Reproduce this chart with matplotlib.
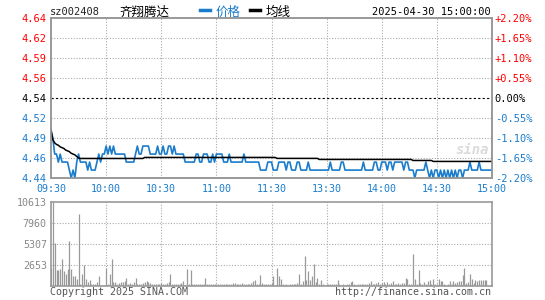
import numpy as np
import matplotlib
matplotlib.use('Agg')
import matplotlib.pyplot as plt
from matplotlib.lines import Line2D

plt.rcParams['font.family'] = ['DejaVu Sans Mono', 'Noto Sans CJK SC']

# ---- data ----
code = 'sz002408'
name = '齐翔腾达'
stamp = '2025-04-30 15:00:00'
prev_close = 4.54

time_ticks = [0, 30, 60, 90, 120, 150, 180, 210, 240]
time_labels = ['09:30', '10:00', '10:30', '11:00', '11:30', '13:30', '14:00', '14:30', '15:00']

price_labels = ['4.44', '4.46', '4.49', '4.52', '4.54', '4.56', '4.59', '4.62', '4.64']
pct_labels = ['-2.20%', '-1.65%', '-1.10%', '-0.55%', '0.00%', '+0.55%', '+1.10%', '+1.65%', '+2.20%']

vol_ticks = [2653, 5307, 7960, 10613]

# price per minute, 09:30 .. 15:00 (241 points)
price = [
    4.50, 4.49, 4.47, 4.47, 4.46, 4.47, 4.46, 4.46, 4.46, 4.46,
    4.45, 4.44, 4.45, 4.44, 4.46, 4.47, 4.46, 4.46, 4.46, 4.46,
    4.45, 4.46, 4.45, 4.45, 4.45, 4.46, 4.47, 4.46, 4.47, 4.47,
    4.48, 4.47, 4.48, 4.47, 4.48, 4.47, 4.47, 4.47, 4.47, 4.47,
    4.47, 4.46, 4.46, 4.46, 4.46, 4.46, 4.47, 4.48, 4.47, 4.47,
    4.48, 4.48, 4.48, 4.48, 4.47, 4.47, 4.47, 4.47, 4.48, 4.47,
    4.47, 4.48, 4.47, 4.47, 4.48, 4.48, 4.47, 4.48, 4.47, 4.47,
    4.47, 4.47, 4.47, 4.46, 4.46, 4.46, 4.46, 4.46, 4.46, 4.47,
    4.47, 4.46, 4.46, 4.47, 4.47, 4.47, 4.46, 4.46, 4.47, 4.46,
    4.47, 4.47, 4.47, 4.47, 4.46, 4.46, 4.46, 4.47, 4.46, 4.46,
    4.46, 4.46, 4.46, 4.46, 4.46, 4.47, 4.46, 4.46, 4.46, 4.46,
    4.46, 4.46, 4.46, 4.46, 4.45, 4.45, 4.45, 4.45, 4.46, 4.46,
    4.46, 4.45, 4.45, 4.45, 4.46, 4.46, 4.46, 4.46, 4.45, 4.46,
    4.46, 4.45, 4.45, 4.45, 4.46, 4.46, 4.45, 4.45, 4.45, 4.45,
    4.46, 4.45, 4.45, 4.45, 4.45, 4.45, 4.45, 4.45, 4.45, 4.45,
    4.45, 4.45, 4.46, 4.45, 4.45, 4.45, 4.45, 4.45, 4.46, 4.46,
    4.45, 4.45, 4.45, 4.45, 4.45, 4.45, 4.45, 4.45, 4.45, 4.45,
    4.46, 4.45, 4.45, 4.45, 4.45, 4.45, 4.46, 4.46, 4.45, 4.45,
    4.46, 4.46, 4.46, 4.45, 4.46, 4.46, 4.45, 4.46, 4.46, 4.46,
    4.46, 4.46, 4.45, 4.46, 4.46, 4.45, 4.45, 4.45, 4.44, 4.45,
    4.45, 4.45, 4.45, 4.45, 4.46, 4.45, 4.44, 4.45, 4.44, 4.45,
    4.45, 4.44, 4.45, 4.44, 4.45, 4.44, 4.45, 4.44, 4.45, 4.44,
    4.45, 4.44, 4.45, 4.45, 4.44, 4.45, 4.45, 4.45, 4.46, 4.45,
    4.45, 4.45, 4.45, 4.46, 4.45, 4.45, 4.45, 4.45, 4.45, 4.45,
    4.45,
]

# average price: first minutes one by one, then flat runs
avg_start = [4.500, 4.488, 4.484, 4.482, 4.481, 4.479, 4.478, 4.477,
             4.475, 4.474, 4.473, 4.471, 4.470, 4.469, 4.467, 4.465]
avg_levels = [4.4645, 4.4658, 4.4646, 4.4633, 4.4620, 4.4608]
avg_runs = [35, 72, 23, 51, 11, 33]

volume = [
    2270, 10613, 5430, 1980, 1980, 2190, 3370, 1850, 1560, 2100,
    5640, 2100, 1220, 1220, 840, 9050, 295, 1470, 2610, 930,
    505, 715, 295, 210, 210, 505, 1220, 170, 170, 170,
    2315, 295, 1560, 3450, 505, 505, 295, 380, 505, 505,
    630, 1050, 210, 380, 295, 505, 1050, 295, 295, 295,
    380, 505, 630, 505, 420, 295, 210, 210, 210, 295,
    420, 295, 295, 380, 505, 1470, 210, 210, 210, 295,
    295, 380, 590, 170, 2100, 295, 1980, 210, 210, 295,
    210, 210, 210, 210, 1050, 295, 210, 295, 210, 210,
    210, 295, 295, 210, 210, 210, 210, 295, 210, 380,
    380, 210, 210, 295, 380, 210, 295, 295, 295, 420,
    590, 800, 295, 295, 1350, 380, 295, 295, 295, 295,
    380, 1220, 130, 2315, 1220, 930, 295, 170, 295, 170,
    210, 295, 295, 295, 420, 1560, 295, 630, 3750, 715,
    1850, 800, 1220, 2820, 505, 1050, 210, 800, 210, 130,
    210, 210, 295, 210, 295, 210, 715, 295, 170, 210,
    170, 210, 295, 505, 630, 210, 170, 295, 295, 210,
    210, 210, 295, 380, 630, 295, 210, 380, 505, 210,
    420, 505, 210, 505, 295, 380, 630, 210, 295, 380,
    210, 380, 380, 1050, 930, 210, 295, 4000, 930, 210,
    1980, 380, 210, 505, 210, 630, 800, 295, 930, 210,
    210, 930, 630, 630, 210, 170, 210, 590, 210, 590,
    380, 505, 630, 630, 1350, 2315, 420, 505, 1470, 930,
    420, 800, 630, 715, 715, 715, 715, 715, 0, 0,
    0,
]

avg = avg_start + [lv for lv, n in zip(avg_levels, avg_runs) for _ in range(n)]
minutes = np.arange(len(price))

W, H = 545, 300
BLUE = '#1a7ccc'
RED = '#ff0000'
GRID = '#aaaaaa'
FRAME = '#999999'


def fx(x):
    return x / W


def fy(y):
    return 1 - y / H


fig = plt.figure(figsize=(5.45, 3.0), dpi=100)

# ---- price panel ----
ax = fig.add_axes([fx(51), fy(178), fx(492) - fx(51), fy(18) - fy(178)])
lo, hi = prev_close * (1 - 0.022), prev_close * (1 + 0.022)
levels = [prev_close * (1 + 0.0055 * k) for k in range(-4, 5)]
ax.set_xlim(0, 240)
ax.set_ylim(lo, hi)

for lv in levels[1:-1]:
    if abs(lv - prev_close) < 1e-9:
        ax.axhline(lv, color='black', lw=0.8, ls=(0, (2, 2)), zorder=1)
    else:
        ax.axhline(lv, color=GRID, lw=0.8, ls=(0, (1, 1.5)), zorder=1)
for t in time_ticks[1:-1]:
    ax.axvline(t, color=GRID, lw=0.8, ls=(0, (1, 1.5)), zorder=1)

ax.plot(minutes, price, color=BLUE, lw=1.2, zorder=3)
ax.plot(minutes, avg, color='black', lw=1.1, zorder=4)

ax.set_yticks(levels)
ax.set_yticklabels(price_labels, fontsize=7.5)
for lab, lv in zip(ax.get_yticklabels(), levels):
    lab.set_color(RED if lv > prev_close + 1e-9 else ('black' if abs(lv - prev_close) < 1e-9 else BLUE))
ax.tick_params(axis='y', length=0, pad=3)

ax.set_xticks(time_ticks)
ax.set_xticklabels(time_labels, fontsize=7.2, color=BLUE)
ax.tick_params(axis='x', length=0, pad=4)

ax2 = ax.twinx()
ax2.set_ylim(lo, hi)
ax2.set_yticks(levels)
ax2.set_yticklabels(pct_labels, fontsize=7.5)
for lab, lv in zip(ax2.get_yticklabels(), levels):
    lab.set_color(RED if lv > prev_close + 1e-9 else ('black' if abs(lv - prev_close) < 1e-9 else BLUE))
ax2.tick_params(axis='y', length=0, pad=2)

for a in (ax, ax2):
    for sp in a.spines.values():
        sp.set_color(FRAME)
        sp.set_linewidth(1.2)

# ---- volume panel ----
axv = fig.add_axes([fx(51), fy(286), fx(492) - fx(51), fy(202) - fy(286)])
axv.set_xlim(0, 240)
axv.set_ylim(0, vol_ticks[-1])
for v in vol_ticks[:-1]:
    axv.axhline(v, color=GRID, lw=0.8, ls=(0, (1, 1.5)), zorder=1)
for t in time_ticks[1:-1]:
    axv.axvline(t, color=GRID, lw=0.8, ls=(0, (1, 1.5)), zorder=1)
axv.vlines(minutes, 0, volume, color='#999999', lw=0.9, zorder=3)
axv.set_yticks(vol_ticks)
axv.set_yticklabels([str(v) for v in vol_ticks], fontsize=7.2, color='#888888')
axv.tick_params(axis='y', length=0, pad=3)
axv.set_xticks([])
for sp in axv.spines.values():
    sp.set_color(FRAME)
    sp.set_linewidth(1.2)

# ---- header / footer texts ----
ty = fy(12)
fig.text(fx(50), ty, code, fontsize=7.5, color='#222222', va='center', ha='left')
fig.text(fx(120), ty, name, fontsize=9, color='black', va='center', ha='left')
fig.add_artist(Line2D([fx(200), fx(210)], [fy(10), fy(10)], color=BLUE, lw=2.5))
fig.text(fx(216), ty, '价格', fontsize=9, color=BLUE, va='center', ha='left')
fig.add_artist(Line2D([fx(250), fx(260)], [fy(10), fy(10)], color='black', lw=2.5))
fig.text(fx(266), ty, '均线', fontsize=9, color='black', va='center', ha='left')
fig.text(fx(491), ty, stamp, fontsize=7.5, color='black', va='center', ha='right')

fig.text(fx(50), fy(292), 'Copyright 2025 SINA.COM', fontsize=7.2, color='#555555', va='center', ha='left')
fig.text(fx(491), fy(292), 'http://finance.sina.com.cn', fontsize=7.2, color='#555555', va='center', ha='right')

# faint watermark
fig.text(fx(472), fy(150), 'sina', fontsize=10, color='#cccccc', style='italic',
         weight='bold', va='center', ha='center', alpha=0.7)

fig.savefig('out.png', dpi=100)
